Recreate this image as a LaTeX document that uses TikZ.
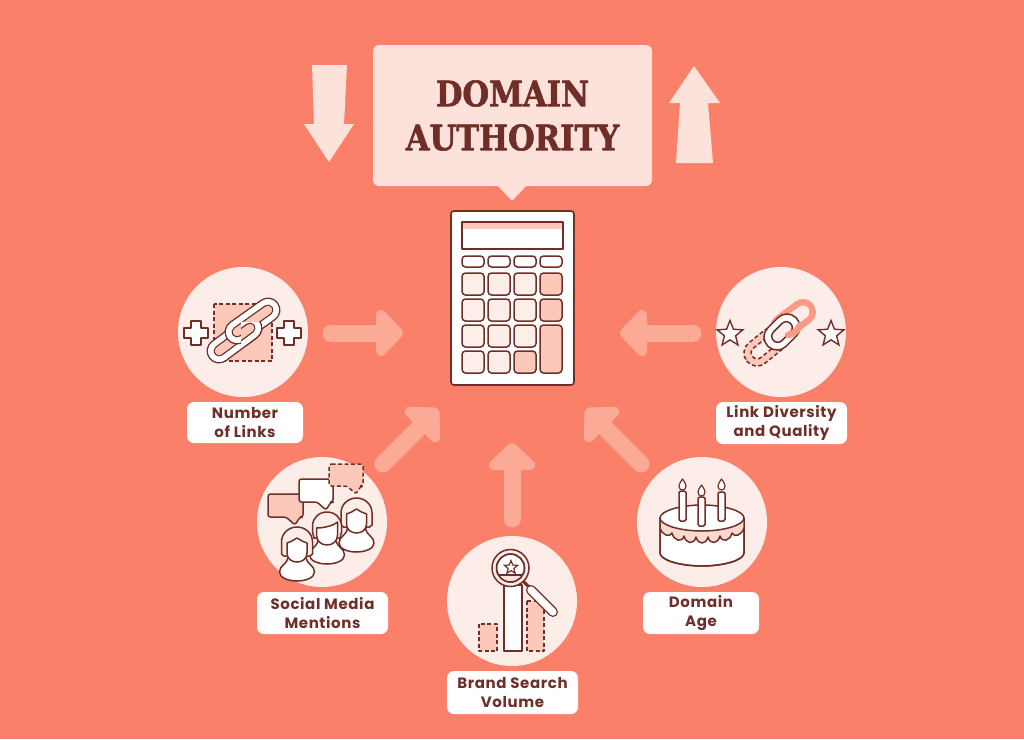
\documentclass[tikz,border=0pt]{standalone}
\usepackage{fontspec}
\setmainfont[LetterSpace=4]{Poppins}
\newfontfamily\titlefont[BoldFeatures={FakeStretch=0.875,FakeBold=1.6}]{DejaVu Serif}
\usetikzlibrary{shapes.geometric,calc}
\definecolor{bgc}{HTML}{FB8069}
\definecolor{lightc}{HTML}{FDE2DB}
\definecolor{discc}{HTML}{FCEDE8}
\definecolor{pinkc}{HTML}{FBC8BA}
\definecolor{frostc}{HTML}{FCD9CF}
\definecolor{capc}{HTML}{FDE0D8}
\definecolor{arrowc}{HTML}{FBAA96}
\definecolor{linkc}{HTML}{FA9A85}
\definecolor{darkc}{HTML}{6F2F28}
\definecolor{keyc}{HTML}{FEEEE9}
\tikzset{
  ic/.style={draw=darkc,line width=1.5pt,line join=round},
  dsh/.style={ic,dash pattern=on 4pt off 2.5pt},
  disc/.style={circle,fill=discc,minimum size=130pt,inner sep=0pt},
  lab/.style={fill=white,rounded corners=7pt,inner sep=0pt,text=darkc,align=center,
    font=\fontsize{15}{19}\bfseries\selectfont},
  shaft/.style={draw=arrowc,line width=17pt,line cap=round,shorten >=10pt},
  head/.style={draw=arrowc,fill=arrowc,line width=10pt,line join=round},
  bigarrow/.style={fill=lightc},
  plusmark/.style={ic,fill=white},
  starmark/.style={star,star points=5,star point ratio=2.3,draw=darkc,line width=1.4pt,fill=white,minimum size=27pt,inner sep=0pt}
}
\newcommand{\keybtn}[5]{\draw[ic,fill=#5,rounded corners=3.5pt] (#1,#2) rectangle (#3,#4);}
\newcommand{\chainlk}[5]{%
  \draw[darkc,line width=25pt,line cap=round] (#1,#2) -- (#3,#4);
  \draw[white,line width=22.2pt,line cap=round] (#1,#2) -- (#3,#4);
  \draw[darkc,line width=11pt,line cap=round] (#1,#2) -- (#3,#4);
  \draw[#5,line width=8.4pt,line cap=round] (#1,#2) -- (#3,#4);}
\newcommand{\plussign}[2]{\draw[plusmark,shift={(#1,#2)}] (-5,-12) -- (5,-12) -- (5,-5) -- (12,-5) -- (12,5) -- (5,5) -- (5,12) -- (-5,12) -- (-5,5) -- (-12,5) -- (-12,-5) -- (-5,-5) -- cycle;}
\newcommand{\personbody}{\draw[ic,fill=white] (-17.5,25) .. controls (-17.5,18) and (-10,18) .. (-9,10) -- (9,10) .. controls (10,18) and (17.5,18) .. (17.5,25) .. controls (17.5,31) and (8,34) .. (0,34) .. controls (-8,34) and (-17.5,31) .. (-17.5,25) -- cycle;}
\newcommand{\longperson}[2]{\begin{scope}[shift={(#1,#2)}]
  \draw[ic,fill=discc] (-13,9) -- (-15.5,7) -- (-15.5,-5) .. controls (-15.5,-14) and (-8,-20) .. (0,-20) .. controls (8,-20) and (15.5,-14) .. (15.5,-5) -- (15.5,7) -- (13,9) -- cycle;
  \personbody
  \draw[ic,fill=white] (-10,-4) -- (-5,-6) -- (0,-9) -- (5,-6) -- (10,-4) -- (10,6) .. controls (10,12) and (5,15) .. (0,15) .. controls (-5,15) and (-10,12) .. (-10,6) -- cycle;
\end{scope}}
\newcommand{\shortperson}[2]{\begin{scope}[shift={(#1,#2)}]
  \draw[ic,fill=discc] (-13,8) -- (-14.5,2) -- (-14.5,-4) .. controls (-14.5,-12) and (-8,-18) .. (0,-18) .. controls (8,-18) and (14.5,-12) .. (14.5,-4) -- (14.5,2) -- (13,8) -- cycle;
  \personbody
  \draw[ic,fill=white] (-10.5,-2) .. controls (-4,-2) and (6,-4) .. (10.5,-8) -- (10.5,5) .. controls (10.5,11) and (6,15) .. (0,15) .. controls (-6,15) and (-10.5,11) .. (-10.5,5) -- cycle;
\end{scope}}
\newcommand{\speech}[7]{\draw[#7,rounded corners=2.5pt] (#1,#2) -- (#3,#2) -- (#3,#4) -- (#5+5,#4) -- (#5,#6) -- (#5-9,#4) -- (#1,#4) -- cycle;}
\newcommand{\flame}[2]{\draw[ic,fill=white,line width=1.2pt,shift={(#1,#2)}] (0,0) .. controls (-2,3) and (-3.5,5) .. (-3.5,7) .. controls (-3.5,9.5) and (-2,11) .. (0,11) .. controls (2,11) and (3.5,9.5) .. (3.5,7) .. controls (3.5,5) and (2,3) .. (0,0) -- cycle;}
\newcommand{\flowarrow}[3]{%
  \draw[shaft] (#1) -- (#2);
  \draw[head,shift={(#2)},rotate=#3] (-17,-18) -- (0,0) -- (-17,18) -- cycle;}
\begin{document}
\begin{tikzpicture}[x=1pt,y=-1pt]
\useasboundingbox (0,0) rectangle (1024,739);
\fill[bgc] (0,0) rectangle (1024,739);

% title callout
\fill[lightc] (497,185) -- (512,201) -- (527,185) -- cycle;
\node[fill=lightc,rounded corners=6pt,minimum width=279pt,minimum height=141pt,inner sep=0pt,
  text=darkc,align=center,font=\titlefont\fontsize{35}{44}\bfseries\selectfont] (title) at (512.5,115.5) {DOMAIN\\AUTHORITY};
\fill[bigarrow] (312,65) -- (347,65) -- (344,124) -- (354,124) -- (329,162) -- (304,124) -- (314,124) -- cycle;
\fill[bigarrow] (694,66) -- (720,103) -- (708,103) -- (713,163) -- (676,163) -- (680,103) -- (669,103) -- cycle;

% calculator
\node[fill=white,draw=darkc,line width=1.6pt,rounded corners=3pt,minimum width=123pt,minimum height=174pt,inner sep=0pt] (calc) at (512.5,298) {};
\fill[pinkc] (462,222) rectangle (563,229);
\draw[ic] (462,222) rectangle (563,249);
\keybtn{462}{256}{484}{267}{white}
\keybtn{488}{256}{510}{267}{white}
\keybtn{514}{256}{536}{267}{white}
\keybtn{540}{256}{562}{267}{white}
\keybtn{462}{273}{484}{295}{keyc}
\keybtn{488}{273}{510}{295}{keyc}
\keybtn{514}{273}{536}{295}{keyc}
\keybtn{540}{273}{562}{295}{pinkc}
\keybtn{462}{299}{484}{321}{keyc}
\keybtn{488}{299}{510}{321}{keyc}
\keybtn{514}{299}{536}{321}{keyc}
\keybtn{540}{299}{562}{321}{pinkc}
\keybtn{462}{325}{484}{347}{keyc}
\keybtn{488}{325}{510}{347}{keyc}
\keybtn{514}{325}{536}{347}{keyc}
\keybtn{540}{325}{562}{373}{pinkc}
\keybtn{462}{351}{484}{373}{keyc}
\keybtn{488}{351}{510}{373}{keyc}
\keybtn{514}{351}{536}{373}{pinkc}

% discs
\node[disc] (links) at (243,332) {};
\node[disc] (divers) at (781,332) {};
\node[disc] (social) at (322,522) {};
\node[disc] (brand) at (512,601) {};
\node[disc] (age) at (702,522) {};

% labels
\node[lab,minimum width=116pt,minimum height=41pt] (llinks) at (245,422.5) {Number\\of Links};
\node[lab,minimum width=131pt,minimum height=42pt] (ldivers) at (781.5,423) {Link Diversity\\and Quality};
\node[lab,minimum width=131pt,minimum height=42pt] (lsocial) at (322.5,613) {Social Media\\Mentions};
\node[lab,minimum width=131pt,minimum height=43pt] (lbrand) at (512.5,692.5) {Brand Search\\Volume};
\node[lab,minimum width=116pt,minimum height=42pt] (lage) at (701,613) {Domain\\Age};

% flow arrows
\coordinate (a1s) at (331,333); \coordinate (a1e) at (398,333);
\coordinate (a2s) at (693,333); \coordinate (a2e) at (625,333);
\coordinate (a3s) at (383,464); \coordinate (a3e) at (434.5,412.5);
\coordinate (a4s) at (512,519); \coordinate (a4e) at (512,448);
\coordinate (a5s) at (641,464); \coordinate (a5e) at (589.5,412.5);
\flowarrow{a1s}{a1e}{0}
\flowarrow{a2s}{a2e}{180}
\flowarrow{a3s}{a3e}{45}
\flowarrow{a4s}{a4e}{90}
\flowarrow{a5s}{a5e}{135}

% icon: number of links
\draw[dsh,fill=pinkc] (214,304) rectangle (272,361);
\plussign{196}{333}
\plussign{289}{333}
\chainlk{219}{351}{250}{328}{pinkc}
\chainlk{237}{332}{268}{310}{pinkc}
\begin{scope}
\clip (241,322) rectangle (266,345);
\chainlk{219}{351}{250}{328}{pinkc}
\end{scope}

% icon: link diversity
\node[starmark] (st1) at (730,334) {};
\node[starmark] (st2) at (831,334) {};
\draw[linkc,line width=26pt,line cap=round] (783,327) -- (803,312);
\draw[discc,line width=13pt,line cap=round] (783,327) -- (803,312);
\begin{scope}[shift={(765,346.5)},rotate=39]
\draw[dsh,fill=pinkc,rounded corners=12.8pt] (-23.3,-13) rectangle (23.3,13);
\draw[dsh,fill=discc,rounded corners=5.8pt] (-16,-6) rectangle (16,6);
\end{scope}
\begin{scope}[shift={(782,332)},rotate=45]
\draw[ic,fill=white,rounded corners=12.8pt] (-20,-13) rectangle (20,13);
\draw[ic,fill=discc,rounded corners=5.8pt] (-12,-6) rectangle (12,6);
\end{scope}
\draw[linkc,line width=6.5pt,line cap=round] (788,335) .. controls (794,334) and (798,330) .. (800,325);

% icon: social
\speech{268}{494}{303}{517}{295}{525}{ic,fill=pinkc}
\speech{299}{479}{333}{502}{326}{510}{ic,fill=white}
\speech{329}{464}{363}{486}{356}{494}{dsh,fill=pinkc}
\longperson{356.5}{518}
\shortperson{327}{530}
\longperson{297}{547}

% icon: brand
\draw[ic,fill=white] (504,585) rectangle (522,651);
\draw[dsh,fill=pinkc] (479,624) rectangle (497,651);
\draw[dsh,fill=pinkc] (527,601) rectangle (544,651);
\draw[ic,line width=3pt] (523,581) -- (530,588);
\draw[darkc,line width=10pt,line cap=round] (531,590) -- (553,612);
\draw[white,line width=7.4pt,line cap=round] (531,590) -- (553,612);
\draw[ic,fill=discc] (510.5,568) circle (18.5);
\draw[ic,fill=white] (510.5,568) circle (14);
\begin{scope}
\clip (510.5,568) circle (14);
\fill[capc] (495,575) rectangle (526,583);
\draw[ic] (495,575) -- (526,575);
\end{scope}
\draw[ic] (510.5,568) circle (14);
\node[starmark,minimum size=14pt,line width=1.2pt] (st3) at (511,567.5) {};

% icon: cake
\draw[ic,fill=white] (660,518) -- (660,553) .. controls (660,560) and (680,566) .. (702,566) .. controls (724,566) and (744,560) .. (744,553) -- (744,518) -- cycle;
\fill[frostc] (660,518) -- (660,528) .. controls (662,535) and (670,538) .. (672,533) .. controls (674,541) and (682,543) .. (684,536) .. controls (686,544) and (694,545) .. (696,537) .. controls (698,545) and (706,545) .. (708,537) .. controls (710,545) and (718,544) .. (720,536) .. controls (722,543) and (730,541) .. (732,533) .. controls (734,538) and (742,535) .. (744,528) -- (744,518) -- cycle;
\draw[ic] (660,528) .. controls (662,535) and (670,538) .. (672,533) .. controls (674,541) and (682,543) .. (684,536) .. controls (686,544) and (694,545) .. (696,537) .. controls (698,545) and (706,545) .. (708,537) .. controls (710,545) and (718,544) .. (720,536) .. controls (722,543) and (730,541) .. (732,533) .. controls (734,538) and (742,535) .. (744,528);
\draw[ic,fill=white] (660,518) .. controls (660,525) and (680,531) .. (702,531) .. controls (724,531) and (744,525) .. (744,518) .. controls (744,511) and (724,505) .. (702,505) .. controls (680,505) and (660,511) .. (660,518) -- cycle;
\draw[ic] (660,518) -- (660,553) .. controls (660,560) and (680,566) .. (702,566) .. controls (724,566) and (744,560) .. (744,553) -- (744,518);
\draw[ic,fill=white,rounded corners=1.5pt] (679,491) rectangle (686,521);
\draw[ic,fill=white,rounded corners=1.5pt] (698,497) rectangle (705,526);
\draw[ic,fill=white,rounded corners=1.5pt] (718,492) rectangle (725,521);
\flame{682.5}{479}
\flame{701.5}{485}
\flame{721.5}{479}
\end{tikzpicture}
\end{document}
